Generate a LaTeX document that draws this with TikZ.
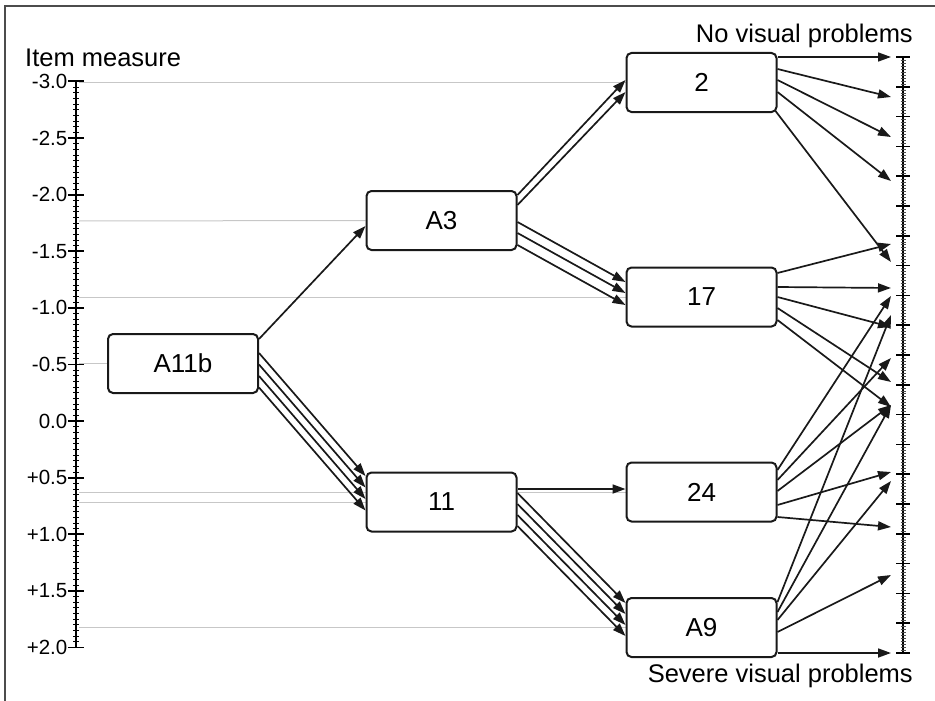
\documentclass[tikz,border=0pt]{standalone}
\usepackage{fontspec}
\setmainfont{Liberation Sans}
\usetikzlibrary{arrows.meta,calc}
\pgfdeclarelayer{bg}
\pgfsetlayers{bg,main}
\begin{document}
\begin{tikzpicture}[x=1pt,y=-1pt,
  box/.style={draw=black!90, line width=2pt, rounded corners=5pt, fill=white,
    minimum width=150pt, minimum height=59pt, inner sep=0pt,
    font=\fontsize{26}{30}\selectfont},
  arr/.style={line width=1.7pt, black!90, -{Triangle[length=13pt,width=9pt]}},
  guide/.style={line width=1pt, black!22},
  lab/.style={font=\fontsize{20.5}{24}\selectfont, anchor=east, inner sep=0pt},
  big/.style={font=\fontsize{25.5}{30}\selectfont, inner sep=0pt}]
\useasboundingbox (0,0) rectangle (935,701);
% frame
\draw[line width=1.5pt, black!70] (5,701) -- (5,6) -- (935,6);
% left axis
\draw[line width=2pt] (76,81.4) -- (76,647.4);
\foreach \i in {0,...,100} {\draw[line width=0.7pt] (73,{81.4+\i*5.66}) -- (79,{81.4+\i*5.66});}
\foreach \i/\t in {0/-3.0,1/-2.5,2/-2.0,3/-1.5,4/-1.0,5/-0.5,6/0.0,7/+0.5,8/+1.0,9/+1.5,10/+2.0} {
  \draw[line width=1.8pt] (68,{81.4+\i*56.6}) -- (84,{81.4+\i*56.6});
  \node[lab] (l\i) at (67.5,{81.4+\i*56.6}) {\t};
}
% right axis
\draw[line width=1.5pt] (903,57) -- (903,653);
\foreach \i in {0,...,200} {\draw[line width=0.5pt, black!70] (900.5,{57+\i*2.98}) -- (905.5,{57+\i*2.98});}
\foreach \i in {0,...,20} {\draw[line width=1.5pt] (896,{57+\i*29.8}) -- (910,{57+\i*29.8});}
% texts
\node[big, anchor=base west] (tItem) at (25,66.7) {Item measure};
\node[big, anchor=base east] (tNo) at (913,43) {No visual problems};
\node[big, anchor=base east] (tSev) at (913,682) {Severe visual problems};
% boxes
\node[box] (A11b) at (183,363.5) {A11b};
\node[box] (A3) at (441.5,220.5) {A3};
\node[box] (n2) at (701.5,82.5) {2};
\node[box] (n17) at (701.5,297) {17};
\node[box] (n11) at (441.5,502) {11};
\node[box] (n24) at (701.5,492) {24};
\node[box] (A9) at (701.5,627.5) {A9};
% guide lines
\begin{pgfonlayer}{bg}
\draw[guide] (79,82.5) -- (n2.west);
\draw[guide] (79,221) -- (A3.west);
\draw[guide] (79,297) -- (n17.west);
\draw[guide] (79,363.5) -- (A11b.west);
\draw[guide] (79,492) -- (n24.west);
\draw[guide] (79,502) -- (n11.west);
\draw[guide] (79,627.5) -- (A9.west);
\end{pgfonlayer}
% end coordinates at the right scale
\foreach \e in {57,97,137,181,262,244,288,327,382,407,296,358,405,472,527,315,481,575,653} {
  \coordinate (t\e) at (891,\e);
}
% box to box arrows
\draw[arr] ($(A11b.east)+(0,-24.5)$) -- ($(A3.west)+(0,5.5)$);
\foreach \k in {0,1,2,3} {
  \draw[arr] ($(A11b.east)+(0,{-10.5+11.5*\k})$) -- ($(n11.west)+(0,{-26+11.5*\k})$);
}
\foreach \s/\e in {-25.5/-2.5,-15.5/9.5} {
  \draw[arr] ($(A3.east)+(0,\s)$) -- ($(n2.west)+(0,\e)$);
}
\foreach \s/\e in {1.5/-15,12.5/-4,24.5/8} {
  \draw[arr] ($(A3.east)+(0,\s)$) -- ($(n17.west)+(0,\e)$);
}
\draw[arr] ($(n11.east)+(0,-13)$) -- ($(n24.west)+(0,-3)$);
\foreach \s/\e in {-9/-24.5,2/-13.5,13/-2.5,24/8.5} {
  \draw[arr] ($(n11.east)+(0,\s)$) -- ($(A9.west)+(0,\e)$);
}
% arrows to the right scale
\foreach \s/\e in {-25.5/57,-13.5/97,-2.5/137,9.5/181} {
  \draw[arr] ($(n2.east)+(0,\s)$) -- (t\e);
}
\draw[arr] ($(n2.south east)+(-2,-2)$) -- (t262);
\foreach \s/\e in {-24/244,-10/288,0/327,11/382,23/407} {
  \draw[arr] ($(n17.east)+(0,\s)$) -- (t\e);
}
\foreach \s/\e in {-22/296,-12/358,-1/405,13/472,25/527} {
  \draw[arr] ($(n24.east)+(0,\s)$) -- (t\e);
}
\foreach \s/\e in {-25.5/315,-15.5/405,-7.5/481,4.5/575,25.5/653} {
  \draw[arr] ($(A9.east)+(0,\s)$) -- (t\e);
}
\end{tikzpicture}
\end{document}
